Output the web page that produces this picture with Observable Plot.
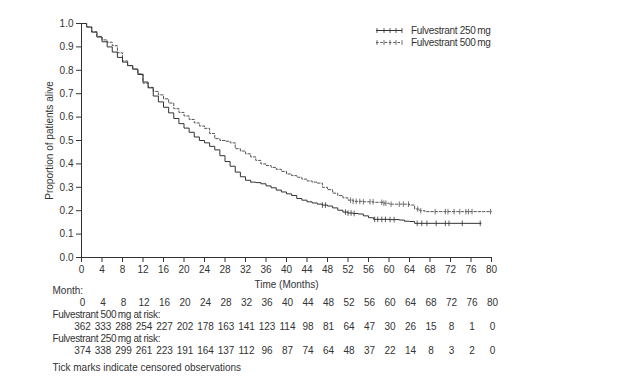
<!DOCTYPE html>
<html><head><meta charset="utf-8">
<script src="https://cdn.jsdelivr.net/npm/d3@7"></script>
<script src="https://cdn.jsdelivr.net/npm/@observablehq/plot@0.6"></script>
<style>
body{margin:0;background:#fff;}
#wrap{position:relative;width:629px;height:380px;font-family:"Liberation Sans",Arial,sans-serif;}
#legend{position:absolute;left:0;top:0;}
.tight{letter-spacing:-0.35px;}
</style></head><body><div id="wrap"></div>
<script>
// Kaplan-Meier estimates
const months250 = [0,1,2,3,4,5,6,7,8,9,10,11,12,13,14,15,16,17,18,19,20,21,22,23,24,25,26,27,28,29,30,31,32,33,34,35,36,37,38,39,40,41,42,43,44,45,46,47,48,49,50,51,52,53,54,55,56,57,60,62,63,64,65,78];
const surv250   = [1.0,0.985,0.963,0.942,0.922,0.9,0.878,0.855,0.835,0.82,0.805,0.782,0.75,0.725,0.69,0.665,0.642,0.618,0.594,0.572,0.553,0.535,0.515,0.5,0.49,0.475,0.46,0.435,0.41,0.39,0.365,0.345,0.33,0.322,0.32,0.315,0.306,0.298,0.288,0.28,0.272,0.265,0.252,0.245,0.238,0.233,0.228,0.224,0.22,0.212,0.202,0.194,0.19,0.188,0.186,0.178,0.17,0.163,0.162,0.16,0.155,0.154,0.146,0.146];
const months500 = [0,1,2,3,4,5,6,7,8,9,10,11,12,13,14,15,16,17,18,19,20,21,22,23,24,25,26,27,28,29,30,31,32,33,34,35,36,37,38,39,40,41,42,43,44,45,46,47,48,49,50,51,52,53,55,57,59,60,64,65,66,67,80];
const surv500   = [1.0,0.985,0.965,0.945,0.93,0.92,0.905,0.875,0.84,0.82,0.805,0.785,0.745,0.727,0.71,0.695,0.678,0.66,0.636,0.62,0.605,0.59,0.575,0.562,0.552,0.53,0.508,0.5,0.497,0.49,0.465,0.455,0.443,0.43,0.415,0.4,0.393,0.385,0.377,0.368,0.357,0.35,0.343,0.335,0.327,0.322,0.318,0.3,0.29,0.275,0.265,0.255,0.245,0.24,0.238,0.236,0.232,0.228,0.224,0.207,0.2,0.196,0.196];
// censored observation times
const censor250 = [47,47.6,51.5,52,52.6,53.2,57.2,57.8,58.6,59.3,60.2,61,65.5,66.4,67.4,69.2,71,71.7,74.3,77.8];
const censor500 = [52.5,53,53.6,54.3,55,56.3,56.9,58.6,59,59.4,60.4,62,62.8,63.8,65.6,66.2,69,71,71.5,72.7,73.8,75,75.5,76.2,79.8];
// risk table
const riskMonths = [0,4,8,12,16,20,24,28,32,36,40,44,48,52,56,60,64,68,72,76,80];
const risk500 = [362,333,288,254,227,202,178,163,141,123,114,98,81,64,47,30,26,15,8,1,0];
const risk250 = [374,338,299,261,223,191,164,137,112,96,87,74,64,48,37,22,14,8,3,2,0];
const xTicks = [0,4,8,12,16,20,24,28,32,36,40,44,48,52,56,60,64,68,72,76,80];
const yTicks = [0,0.1,0.2,0.3,0.4,0.5,0.6,0.7,0.8,0.9,1.0];
const seriesNames = ["Fulvestrant 250\u2009mg", "Fulvestrant 500\u2009mg"];

const km250 = months250.map((m,i)=>({m, s:surv250[i]}));
const km500 = months500.map((m,i)=>({m, s:surv500[i]}));
function lookup(ms, ss, t){ let v = ss[0]; for(let i=0;i<ms.length;i++){ if(ms[i]<=t) v=ss[i]; } return v; }
const c250 = censor250.map(t=>({m:t, s:lookup(months250,surv250,t)}));
const c500 = censor500.map(t=>({m:t, s:lookup(months500,surv500,t)}));
const riskRows = riskMonths.map((m,i)=>({m, r5:risk500[i], r2:risk250[i]}));

const tickSym = {draw(ctx){ ctx.moveTo(0,-2.8); ctx.lineTo(0,2.8); }};
const ink = "#333";
const fs = 10;

const chart = Plot.plot({
  width: 629, height: 380,
  marginLeft: 81, marginRight: 138, marginTop: 23, marginBottom: 123,
  style: {fontFamily: '"Liberation Sans", Arial, sans-serif', fontSize: fs+"px", color: ink, background: "#fff", overflow: "visible"},
  x: {domain: [0,80], ticks: xTicks, tickSize: 5, tickPadding: 3, label: "Time (Months)", labelArrow: "none", labelAnchor: "center", labelOffset: 30},
  y: {domain: [0,1], ticks: yTicks, tickSize: 5, tickPadding: 3, tickFormat: d3.format(".1f"), label: "Proportion of patients alive", labelArrow: "none", labelAnchor: "center", labelOffset: 36},
  marks: [
    Plot.ruleX([0], {stroke: ink, strokeWidth: 1}),
    Plot.ruleY([0], {stroke: ink, strokeWidth: 1}),
    Plot.line(km500, {x: "m", y: "s", curve: "step-after", stroke: "#555", strokeWidth: 1, strokeDasharray: "2.5,1.8"}),
    Plot.line(km250, {x: "m", y: "s", curve: "step-after", stroke: "#333", strokeWidth: 1}),
    Plot.dot(c500, {x: "m", y: "s", symbol: tickSym, stroke: "#555", fill: "none", strokeWidth: 0.8}),
    Plot.dot(c250, {x: "m", y: "s", symbol: tickSym, stroke: "#333", fill: "none", strokeWidth: 0.8}),
    // risk table
    Plot.text(["Month:"], {frameAnchor: "bottom-left", dx: -29, dy: 36, textAnchor: "start", fill: ink}),
    Plot.text(riskRows, {x: "m", text: d=>String(d.m), frameAnchor: "bottom", dy: 48, dx: 1, textAnchor: "middle", fill: ink}),
    Plot.text([seriesNames[1] + " at risk:"], {frameAnchor: "bottom-left", dx: -29, dy: 60, textAnchor: "start", fill: ink, className: "tight"}),
    Plot.text(riskRows, {x: "m", text: d=>String(d.r5), frameAnchor: "bottom", dy: 72, dx: 1, textAnchor: "middle", fill: ink}),
    Plot.text([seriesNames[0] + " at risk:"], {frameAnchor: "bottom-left", dx: -29, dy: 84, textAnchor: "start", fill: ink, className: "tight"}),
    Plot.text(riskRows, {x: "m", text: d=>String(d.r2), frameAnchor: "bottom", dy: 96, dx: 1, textAnchor: "middle", fill: ink}),
    Plot.text(["Tick marks indicate censored observations"], {frameAnchor: "bottom-left", dx: -29, dy: 113, textAnchor: "start", fill: ink})
  ]
});
const wrap = document.getElementById("wrap");
wrap.appendChild(chart);

// legend overlay
const ns = "http://www.w3.org/2000/svg";
const lg = document.createElementNS(ns, "svg");
lg.setAttribute("id","legend"); lg.setAttribute("width","629"); lg.setAttribute("height","60");
const items = [{label:seriesNames[0], dash:null, y:30.5, col:"#333"},{label:seriesNames[1], dash:"2.5,1.8", y:42.5, col:"#555"}];
items.forEach(it=>{
  const l = document.createElementNS(ns,"line");
  l.setAttribute("x1",376); l.setAttribute("x2",402); l.setAttribute("y1",it.y); l.setAttribute("y2",it.y);
  l.setAttribute("stroke",it.col); l.setAttribute("stroke-width",1); if(it.dash) l.setAttribute("stroke-dasharray",it.dash);
  lg.appendChild(l);
  [377,384,390,396,402].forEach(x=>{
    const t = document.createElementNS(ns,"line");
    t.setAttribute("x1",x); t.setAttribute("x2",x); t.setAttribute("y1",it.y-2.5); t.setAttribute("y2",it.y+2.5);
    t.setAttribute("stroke",it.col); t.setAttribute("stroke-width",0.8); lg.appendChild(t);
  });
  const tx = document.createElementNS(ns,"text");
  tx.setAttribute("x",411); tx.setAttribute("y",it.y+3.5); tx.setAttribute("fill","#333");
  tx.setAttribute("font-size","10"); tx.setAttribute("letter-spacing","-0.3");
  tx.setAttribute("font-family",'"Liberation Sans", Arial, sans-serif');
  tx.textContent = it.label; lg.appendChild(tx);
});
wrap.appendChild(lg);
</script>
</body></html>
